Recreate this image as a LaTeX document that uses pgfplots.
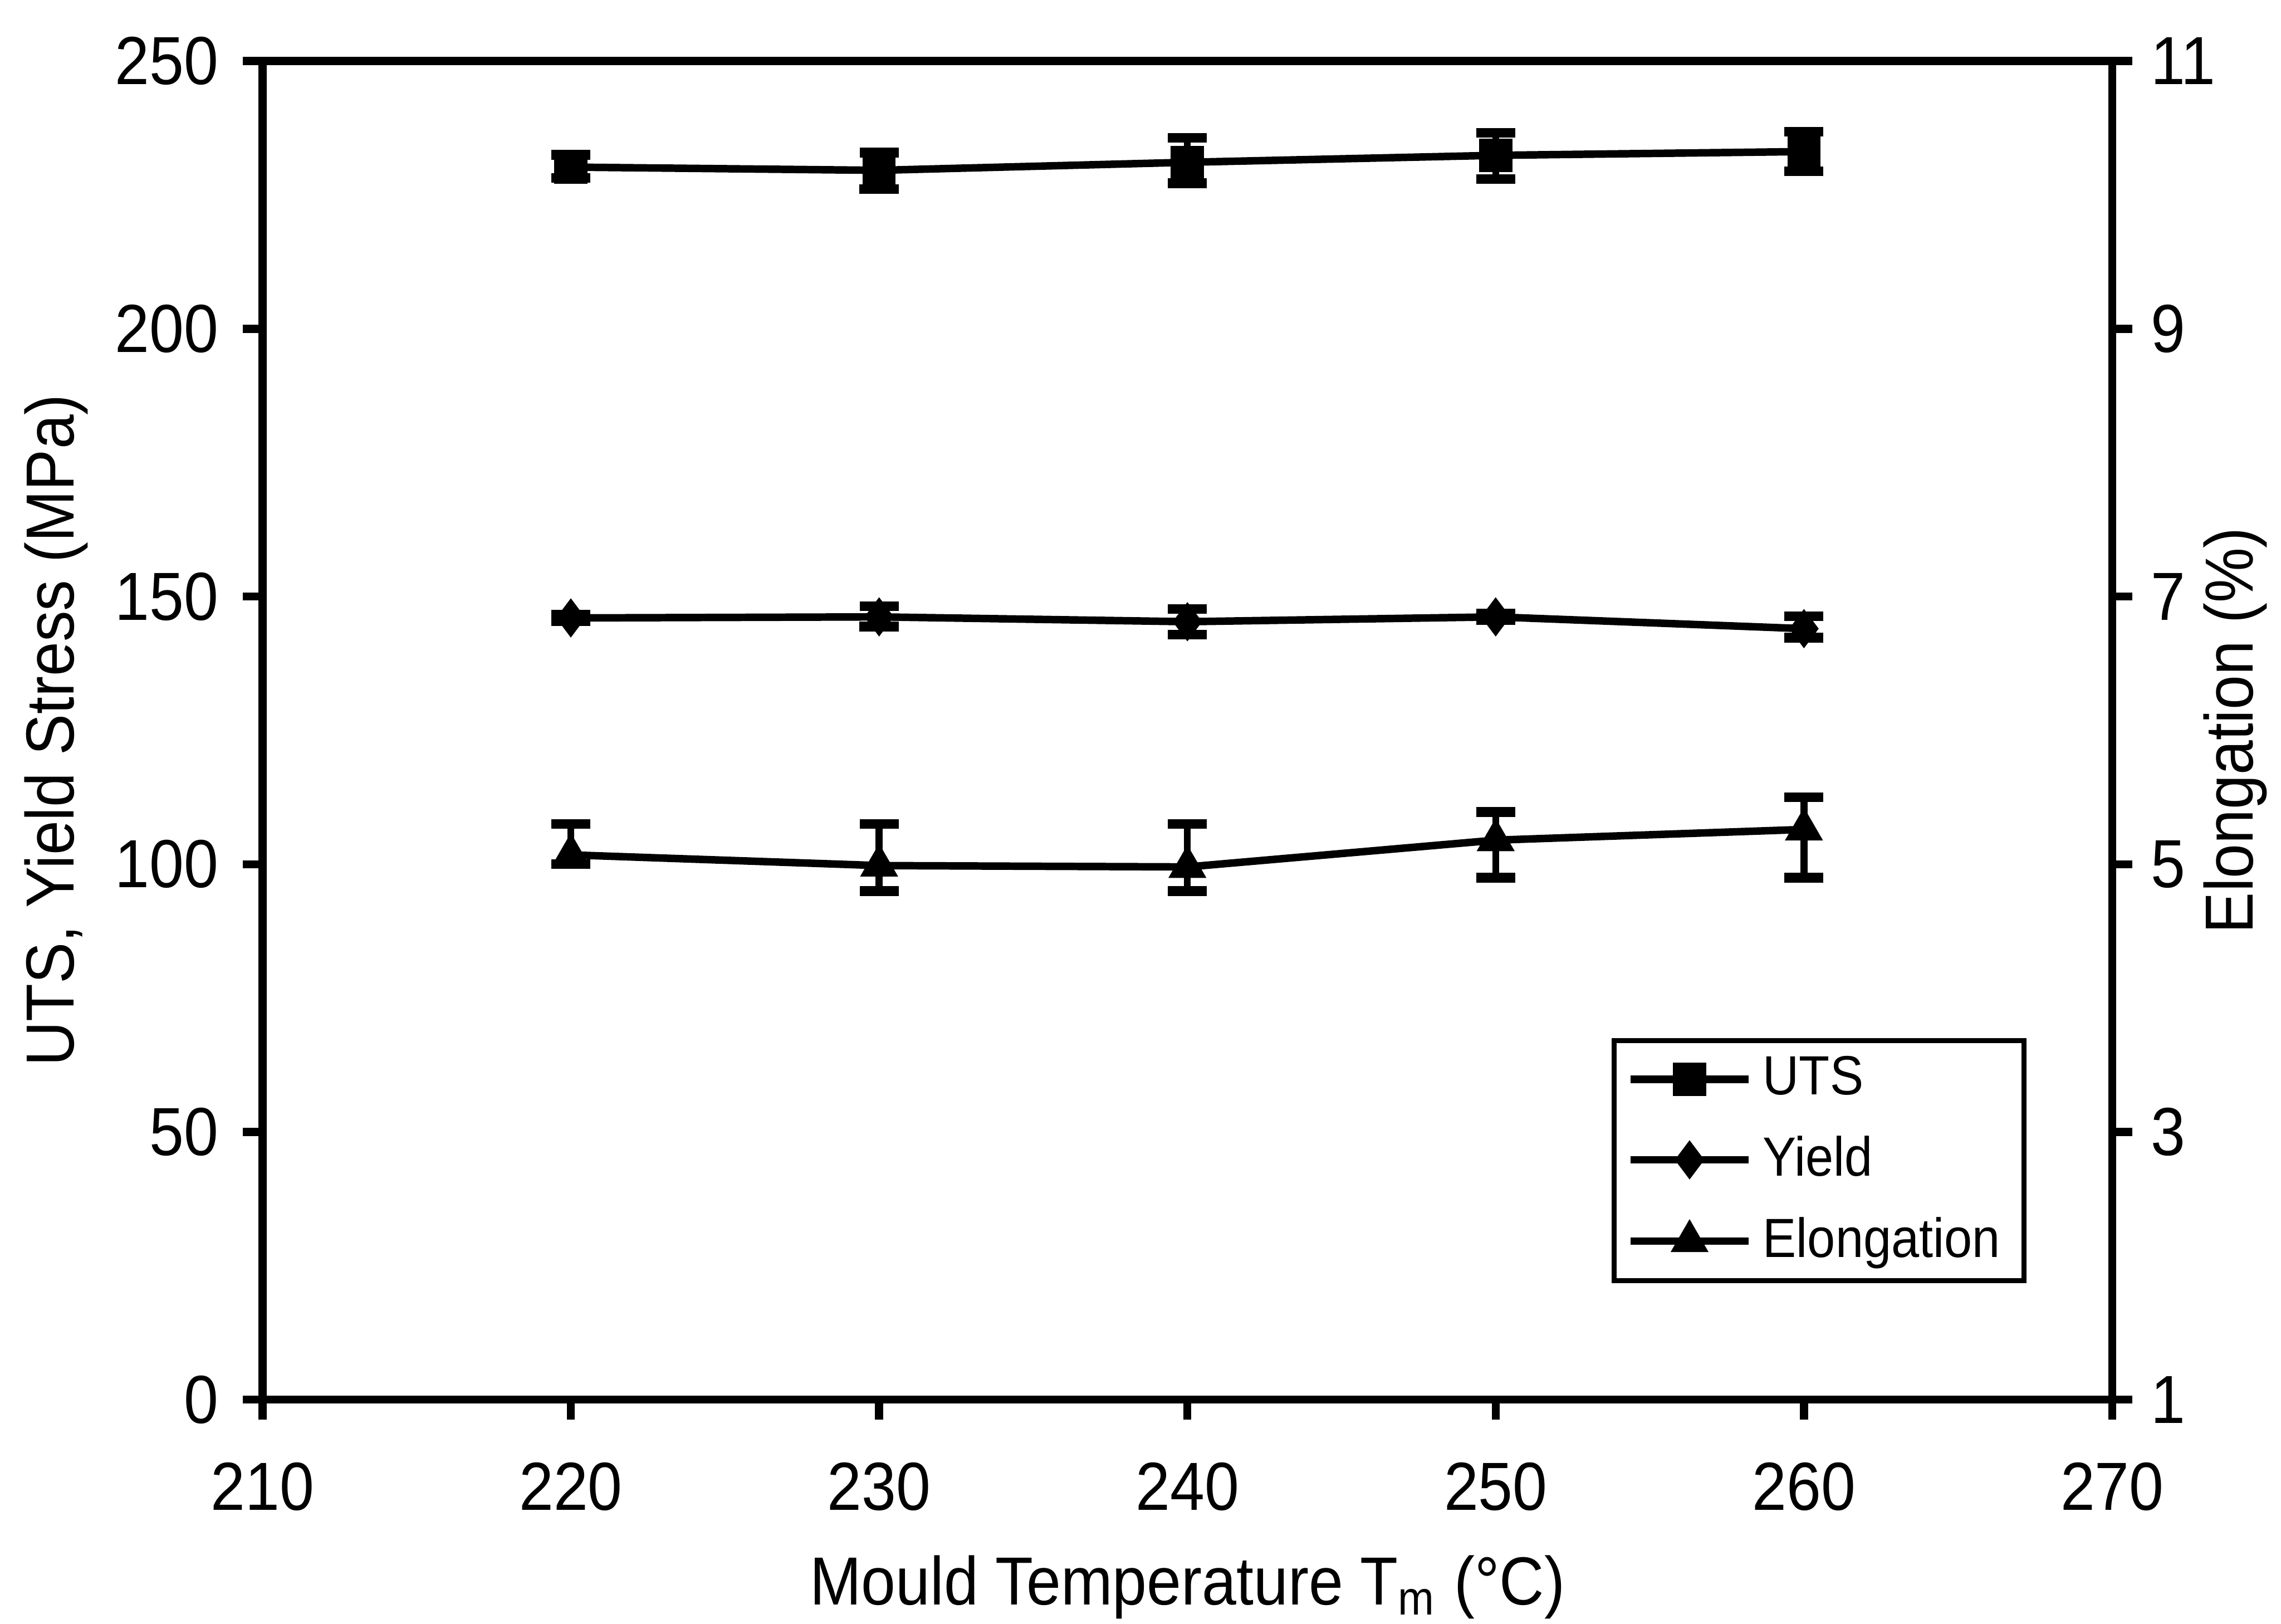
\documentclass[border=0pt]{standalone}
\usepackage{fontspec}
\setmainfont{Liberation Sans}[FakeStretch=0.91]
\usepackage{pgfplots}
\pgfplotsset{compat=1.18}
\pgfplotstableread{
x y ep em
220 230.2 2.3 2.0
230 229.6 3.3 3.5
240 231.1 4.6 3.9
250 232.4 4.2 4.4
260 233.1 3.7 3.7
}\uts
\pgfplotstableread{
x y ep em
220 146.0 0.6 0.6
230 146.2 2.0 1.8
240 145.3 2.4 2.4
250 146.2 0.6 0.6
260 144.0 2.3 1.7
}\yieldtab
\pgfplotstableread{
x y ep em
220 5.07 0.23 0.07
230 4.99 0.31 0.19
240 4.98 0.32 0.18
250 5.18 0.21 0.28
260 5.26 0.24 0.36
}\elong
\begin{document}
\begin{tikzpicture}[font=\fontsize{12.7}{15}\selectfont]
\pgfplotsset{
 common/.style={
  scale only axis, width=345.2pt, height=249.8pt,
  xmin=210, xmax=270,
  tick align=outside, major tick length=3.7pt,
  /pgf/number format/assume math mode=true,
  ticklabel style={font=\fontsize{12.7}{15}\selectfont},
  label style={font=\fontsize{12.7}{15}\selectfont},
  axis line style={line width=1.5pt},
  every tick/.style={line width=1.5pt, black},
 },
 errs/.style={
  error bars/y dir=both, error bars/y explicit,
  error bars/error bar style={line width=1.3pt, solid},
  error bars/error mark options={line width=1.8pt, mark size=3.65pt, solid, rotate=90},
 },
 myleg/.style={legend image code/.code={\draw[mark repeat=2,mark phase=2] plot coordinates {(0pt,0pt) (11pt,0pt) (22pt,0pt)};}},
}
\begin{axis}[common, name=main,
  ymin=0, ymax=250, ytick={0,50,...,250},
  xtick={210,220,...,270},
  xtick pos=left, ytick pos=left,
  xticklabel style={yshift=-4.5pt},
  yticklabel style={xshift=-1pt},
  xlabel={Mould Temperature T\textsubscript{m} (°C)},
  ylabel={UTS, Yield Stress (MPa)},
  xlabel style={at={([yshift=-38.3pt]rel axis cs:0.5,0)}, anchor=base},
  ylabel style={at={([xshift=-38.5pt]rel axis cs:0,0.5)}, anchor=center},
]
\addplot[black, line width=1.4pt, mark=square*, mark size=2.4pt, errs]
  table[x=x, y=y, y error plus=ep, y error minus=em] {\uts};
\addplot[black, line width=1.4pt, mark=diamond*, mark size=2.5pt, errs]
  table[x=x, y=y, y error plus=ep, y error minus=em] {\yieldtab};
\end{axis}
\begin{axis}[common,
  ymin=1, ymax=11, ytick={1,3,...,11},
  axis y line*=right, axis x line=none,
  ylabel={Elongation (\%)},
  ylabel style={at={([xshift=23pt]rel axis cs:1,0.5)}, anchor=center},
  legend style={at={(rel axis cs:0.9537,0.0869)}, anchor=south east,
    draw=black, line width=1pt, font=\fontsize{10.3}{12}\selectfont,
    row sep=2.2pt, inner xsep=2.4pt, inner ysep=0.9pt, cells={anchor=west},
    nodes={inner xsep=2pt}},
  legend cell align=left,
]
\addlegendimage{black, line width=1.4pt, mark=square*, mark size=2.4pt, myleg}
\addlegendentry{UTS}
\addlegendimage{black, line width=1.4pt, mark=diamond*, mark size=2.5pt, myleg}
\addlegendentry{Yield}
\addplot[black, line width=1.4pt, mark=triangle*, mark size=2.7pt, errs, myleg]
  table[x=x, y=y, y error plus=ep, y error minus=em] {\elong};
\addlegendentry{Elongation}
\end{axis}
\pgfresetboundingbox
\path[use as bounding box] ([xshift=-49pt,yshift=-41.8pt]main.south west) rectangle ([xshift=31.5pt,yshift=11.4pt]main.north east);
\end{tikzpicture}
\end{document}
